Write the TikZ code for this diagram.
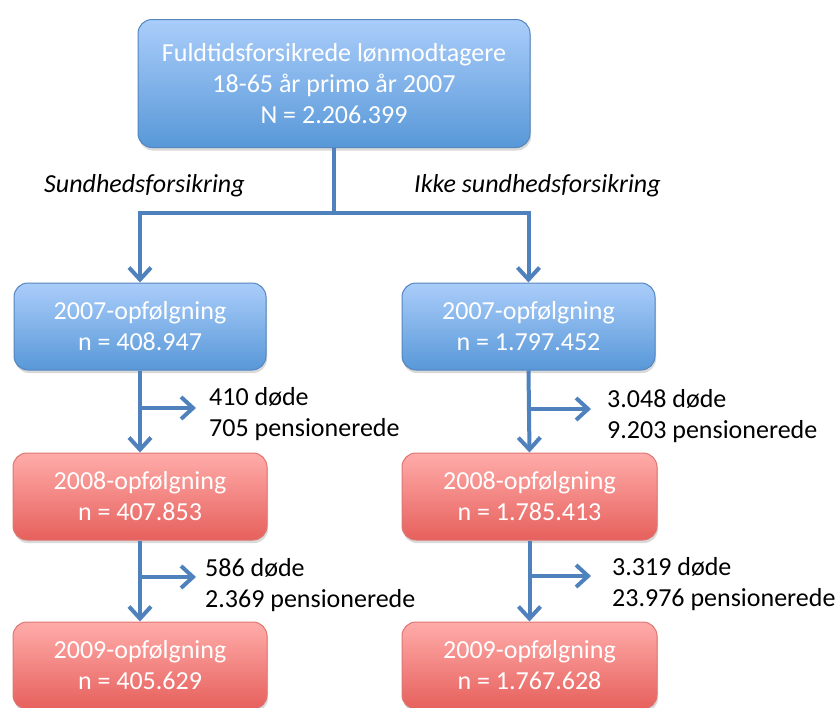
\documentclass[tikz,border=0pt]{standalone}
\usepackage{fontspec}
\setmainfont{Carlito}
\usetikzlibrary{arrows.meta,shadows}
\definecolor{arrowblue}{RGB}{79,129,189}
\definecolor{bluetop}{RGB}{170,205,250}
\definecolor{bluebot}{RGB}{88,152,216}
\definecolor{blueborder}{RGB}{84,134,192}
\definecolor{redtop}{RGB}{255,172,170}
\definecolor{redbot}{RGB}{230,96,92}
\definecolor{redborder}{RGB}{222,118,114}
\tikzset{
  box/.style={rounded corners=14pt, minimum height=87pt, align=center, text=white,
    font=\fontsize{26}{31}\selectfont, line width=1pt,
    drop shadow={opacity=0.3, shadow xshift=1pt, shadow yshift=-3pt}},
  bluebox/.style={box, draw=blueborder, top color=bluetop, bottom color=bluebot},
  redbox/.style={box, draw=redborder, top color=redtop, bottom color=redbot},
  conn/.style={draw=arrowblue, line width=4pt},
  arr/.style={conn, -{Straight Barb[length=12pt, width=22pt]}},
  lbl/.style={anchor=west, align=left, inner sep=0pt, font=\fontsize{26}{31}\selectfont, text=black},
  grp/.style={anchor=west, inner sep=0pt, font=\fontsize{26}{31}\selectfont\itshape, text=black}
}
\begin{document}
\begin{tikzpicture}[x=1pt, y=-1pt]
\useasboundingbox (0,0) rectangle (835,707);
% top box
\node[bluebox, minimum width=392pt, minimum height=128pt] (top) at (334,83.5)
  {Fuldtidsforsikrede lønmodtagere\\18-65 år primo år 2007\\N = 2.206.399};
\node[grp] (gl) at (44,186) {Sundhedsforsikring};
\node[grp] (gr) at (414,186) {Ikke sundhedsforsikring};
% 2007
\node[bluebox, minimum width=252pt] (a7) at (140,326.5) {2007-opfølgning\\n = 408.947};
\node[bluebox, minimum width=253pt] (b7) at (528.5,326.5) {2007-opfølgning\\n = 1.797.452};
% 2008
\node[redbox, minimum width=254pt] (a8) at (140,496.5) {2008-opfølgning\\n = 407.853};
\node[redbox, minimum width=255pt] (b8) at (529.5,496.5) {2008-opfølgning\\n = 1.785.413};
% 2009
\node[redbox, minimum width=254pt] (a9) at (140,665.5) {2009-opfølgning\\n = 405.629};
\node[redbox, minimum width=255pt] (b9) at (529.5,665.5) {2009-opfølgning\\n = 1.767.628};
% side labels
\node[lbl] (la1) at (209,414) {410 døde\\705 pensionerede};
\node[lbl] (lb1) at (607,416) {3.048 døde\\9.203 pensionerede};
\node[lbl] (la2) at (205,585) {586 døde\\2.369 pensionerede};
\node[lbl] (lb2) at (612,584) {3.319 døde\\23.976 pensionerede};
% connectors
\coordinate (j) at (334,213);
\draw[conn] (top.south) -- (j);
\draw[arr] (j) -| (a7.north);
\draw[arr] (j) -| (b7.north);
\draw[arr] (a7.south) -- (a8.north);
\draw[arr] (b7.south) -- (b8.north);
\draw[arr] (a8.south) -- (a9.north);
\draw[arr] (b8.south) -- (b9.north);
\coordinate (ba1) at (140,408);
\coordinate (ea1) at (196,408);
\coordinate (bb1) at (528.5,409);
\coordinate (eb1) at (591,409);
\coordinate (ba2) at (140,577);
\coordinate (ea2) at (196,577);
\coordinate (bb2) at (528.5,576);
\coordinate (eb2) at (591,576);
\draw[arr] (ba1) -- (ea1);
\draw[arr] (bb1) -- (eb1);
\draw[arr] (ba2) -- (ea2);
\draw[arr] (bb2) -- (eb2);
\end{tikzpicture}
\end{document}
